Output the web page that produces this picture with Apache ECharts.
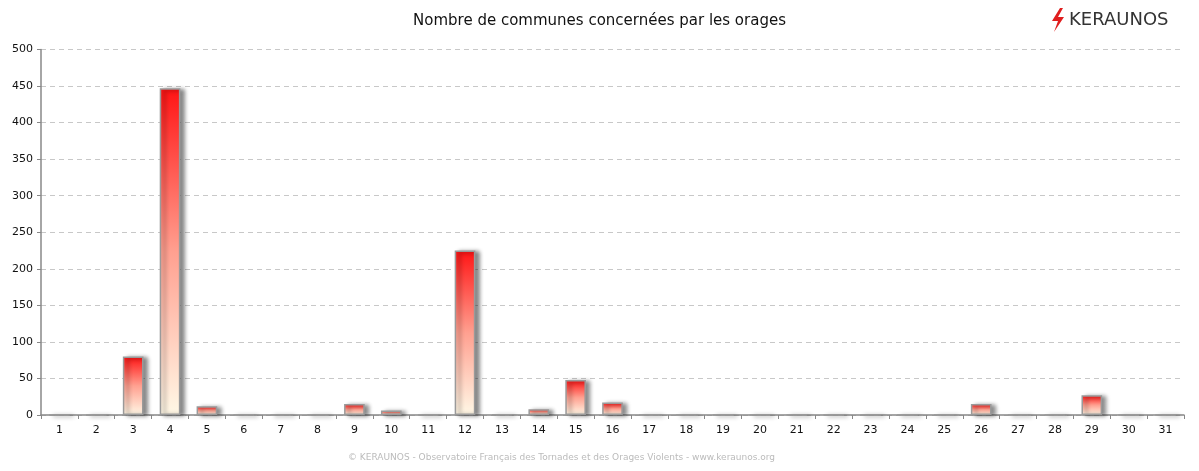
<!DOCTYPE html>
<html><head><meta charset="utf-8">
<script src="https://cdn.jsdelivr.net/npm/echarts@6/dist/echarts.min.js"></script>
<style>html,body{margin:0;padding:0;background:#fff}#c{width:1199px;height:471px}</style>
</head><body><div id="c"></div>
<script>
const days = ['1','2','3','4','5','6','7','8','9','10','11','12','13','14','15','16','17','18','19','20','21','22','23','24','25','26','27','28','29','30','31'];
const communes = [0,0,80,447,12,0,0,0,15,6,0,225,1,8,48,17,0,0,0,0,0,0,0,0,0,15,0,0,27,0,0];
const yTicks = [0,50,100,150,200,250,300,350,400,450,500];
const titleText = 'Nombre de communes concernées par les orages';
const footerText = '© KERAUNOS - Observatoire Français des Tornades et des Orages Violents - www.keraunos.org';

const chart = echarts.init(document.getElementById('c'));
chart.setOption({
  animation:false,
  backgroundColor:'#fff',
  title:{text:titleText,left:'center',top:9,textStyle:{fontFamily:'DejaVu Sans',fontSize:15,fontWeight:'normal',color:'#111'}},
  grid:{left:41,right:15,top:49.5,bottom:56,containLabel:false},
  xAxis:{type:'category',data:days,
    axisLine:{lineStyle:{color:'#888',width:1.5}},
    axisTick:{show:true,length:4,lineStyle:{color:'#888'}},
    axisLabel:{color:'#111',fontFamily:'DejaVu Sans',fontSize:11,margin:10}},
  yAxis:{type:'value',min:yTicks[0],max:yTicks[yTicks.length-1],interval:50,
    axisLine:{show:true,lineStyle:{color:'#888',width:1.5}},
    axisTick:{show:true,length:4,lineStyle:{color:'#888'}},
    axisLabel:{color:'#111',fontFamily:'DejaVu Sans',fontSize:11,margin:8},
    splitLine:{lineStyle:{color:'#c8c8c8',type:[5,4]}}},
  series:[{type:'bar',data:communes,barWidth:'56%',
    itemStyle:{
      color:new echarts.graphic.LinearGradient(0,0,0,1,[{offset:0,color:'#ff1414'},{offset:0.5,color:'#ffa090'},{offset:1,color:'#fff8e6'}]),
      borderColor:'#9a9a9a',borderWidth:1.5,
      shadowColor:'rgba(0,0,0,0.45)',shadowBlur:4,shadowOffsetX:4,shadowOffsetY:1}}],
  graphic:[
    {type:'polygon',shape:{points:[[1060,8],[1052,21],[1058,21],[1054,32],[1064,17],[1058,17],[1063,8]]},style:{fill:'#e01e1e'}},
    {type:'text',left:1069,top:11,style:{text:'KERAUNOS',font:'18px "DejaVu Sans"',fill:'#333',letterSpacing:2}},
    {type:'text',left:348,top:453,style:{text:footerText,font:'9px "DejaVu Sans"',fill:'#bbb'}}
  ]
});
</script></body></html>
